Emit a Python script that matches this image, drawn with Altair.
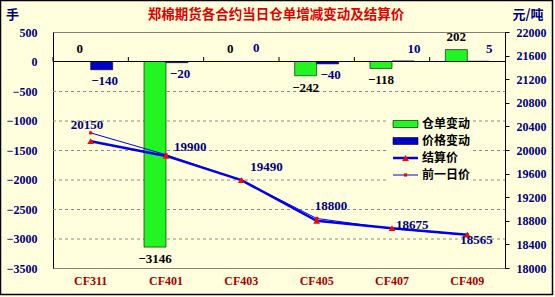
import altair as alt
import pandas as pd

# ---------------- data ----------------
categories = ["CF311", "CF401", "CF403", "CF405", "CF407", "CF409"]
warrant_change = [0, -3146, 0, -242, -118, 202]          # 仓单变动 (手)
price_change = [-140, -20, 0, -40, 10, 5]                # 价格变动 (元/吨)
settle_price = [20150, 19900, 19490, 18800, 18675, 18565]  # 结算价
prev_price = [20290, 19920, 19490, 18840, 18665, 18560]    # 前一日价
series_names = ["仓单变动", "价格变动", "结算价", "前一日价"]
left_ticks = [500, 0, -500, -1000, -1500, -2000, -2500, -3000, -3500]
right_ticks = [22000, 21600, 21200, 20800, 20400, 20000, 19600, 19200, 18800, 18400, 18000]
title_text = "郑棉期货各合约当日仓单增减变动及结算价"
left_unit = "手"
right_unit = "元/吨"

# ---------------- tables ----------------
bar_df = pd.DataFrame({
    "cat": categories * 2,
    "series": [series_names[0]] * len(categories) + [series_names[1]] * len(categories),
    "value": warrant_change + price_change,
})
line_df = pd.DataFrame({"cat": categories, "settle": settle_price, "prev": prev_price})
grid_df = pd.DataFrame({"level": [t for t in left_ticks if t not in (500, 0, -3500)]})
one = pd.DataFrame({"k": [0]})

# ---------------- style ----------------
BG = "#FFFFDD"
NUM_FONT = "Liberation Serif"
CJK_FONT = "Noto Sans CJK SC"
NAVY = "#000080"
GREEN = "#22F522"
BLUE = "#0000CC"
LINE_BLUE = "#0000EE"
RED = "#FF0000"
W, H = 452, 236

xscale = alt.Scale(type="band", domain=categories, paddingInner=0, paddingOuter=0)
bar_series = series_names[:2]
xo_scale = alt.Scale(domain=bar_series, paddingInner=0, paddingOuter=0.712)
yl = alt.Scale(domain=[-3500, 500], nice=False, zero=False)
yr = alt.Scale(domain=[18000, 22000], nice=False, zero=False)

X = alt.X("cat:N", sort=categories, scale=xscale, axis=None, title=None)
XO = alt.XOffset("series:N", sort=bar_series, scale=xo_scale)

x_axis = alt.Axis(
    title=None, orient="bottom", domain=True, domainColor="black", ticks=False,
    labels=False, grid=False,
)
left_axis = alt.Axis(
    title=None, orient="left", values=left_ticks, format="d", grid=False,
    domain=True, domainColor="black", ticks=False, labelPadding=16,
    labelFont=NUM_FONT, labelFontWeight="bold", labelFontSize=12, labelColor=NAVY,
)
right_axis = alt.Axis(
    title=None, orient="right", values=right_ticks, format="d", grid=False,
    domain=True, domainColor="black", ticks=True, tickColor="black", tickSize=4,
    labelPadding=7, labelFont=NUM_FONT, labelFontWeight="bold", labelFontSize=12,
    labelColor=NAVY,
)

# ---------------- bars (left scale) ----------------
grid = alt.Chart(grid_df).mark_rule(
    color="#8A8A8A", strokeWidth=1, strokeDash=[3, 3], opacity=1
).encode(
    x=alt.value(0), x2=alt.value(W),
    y=alt.Y("level:Q", scale=yl, axis=None),
    yOffset=alt.value(0.5),
)
bars = alt.Chart(bar_df).mark_bar(stroke="black", strokeWidth=0.6).encode(
    x=alt.X("cat:N", sort=categories, scale=xscale, axis=x_axis),
    xOffset=XO,
    y=alt.Y("value:Q", scale=yl, axis=left_axis),
    color=alt.Color("series:N", scale=alt.Scale(domain=bar_series, range=[GREEN, BLUE]), legend=None),
)


def bar_label(series, cond, dx, dy, color):
    return alt.Chart(bar_df).transform_filter(
        f"datum.series == '{series}' && {cond}"
    ).mark_text(
        dx=dx, dy=dy, font=NUM_FONT, fontWeight="bold", fontSize=13, color=color, baseline="middle"
    ).encode(x=X, xOffset=XO, y=alt.Y("value:Q", scale=yl, axis=None), text=alt.Text("value:Q"))


bar_labels = [
    bar_label(bar_series[0], "datum.value >= 0", 0, -13, "black"),
    bar_label(bar_series[0], "datum.value < 0", 0, 12, "black"),
    bar_label(bar_series[1], "datum.value > 0", 11, -12, NAVY),
    bar_label(bar_series[1], "datum.value == 0", 4, -14, NAVY),
    bar_label(bar_series[1], "datum.value < 0", 3, 11, NAVY),
]

zero_rule = alt.Chart(one).mark_rule(color="black", strokeWidth=1).encode(
    x=alt.value(0), x2=alt.value(W),
    y=alt.Y(datum=0, scale=yl, axis=None),
)
edge_ticks = alt.Chart(line_df).mark_rule(color="black", strokeWidth=1).encode(
    x=alt.X("cat:N", sort=categories, scale=xscale, axis=None, bandPosition=0),
    y=alt.Y(datum=0, scale=yl, axis=None),
    y2=alt.value(25),
)
cat_labels = alt.Chart(line_df).mark_text(
    baseline="middle", font=NUM_FONT, fontWeight="bold", fontSize=12, color="#A80000",
).encode(x=X, y=alt.value(H + 13), text="cat:N")

# ---------------- lines (right scale) ----------------
YP = alt.Y("prev:Q", scale=yr, axis=right_axis)
YPn = alt.Y("prev:Q", scale=yr, axis=None)
YS = alt.Y("settle:Q", scale=yr, axis=None)
prev_line = alt.Chart(line_df).mark_line(color=LINE_BLUE, strokeWidth=1).encode(x=X, y=YP)
prev_pts = alt.Chart(line_df).mark_point(shape="square", filled=True, color=RED, size=10, opacity=1).encode(
    x=X, y=YPn)
settle_line = alt.Chart(line_df).mark_line(color=LINE_BLUE, strokeWidth=2.5).encode(x=X, y=YS)
settle_pts = alt.Chart(line_df).mark_point(shape="triangle-up", filled=True, color=RED, size=45, opacity=1).encode(
    x=X, y=YS)

label_nudge = {  # (dx, dy) of each settlement-price label
    "CF311": (-20, -16), "CF401": (8, -9), "CF403": (9, -13),
    "CF405": (-2, -15), "CF407": (4, -3), "CF409": (-7, 5),
}
price_labels = [
    alt.Chart(line_df).transform_filter(f"datum.cat == '{c}'").mark_text(
        align="left", baseline="middle", dx=dx, dy=dy, font=NUM_FONT, fontWeight="bold",
        fontSize=13, color=NAVY,
    ).encode(x=X, y=YS, text=alt.Text("settle:Q"))
    for c, (dx, dy) in label_nudge.items()
]

# ---------------- decorations: legend, titles, frame ----------------
legend_bg = alt.Chart(one).mark_rect(fill=BG).encode(
    x=alt.value(333), x2=alt.value(420), y=alt.value(80), y2=alt.value(152))
leg_green = alt.Chart(one).mark_rect(fill=GREEN, stroke="black", strokeWidth=0.6).encode(
    x=alt.value(340), x2=alt.value(365), y=alt.value(88.5), y2=alt.value(95.5))
leg_blue = alt.Chart(one).mark_rect(fill=BLUE, stroke="black", strokeWidth=0.6).encode(
    x=alt.value(340), x2=alt.value(365), y=alt.value(105.5), y2=alt.value(112.5))
leg_settle = alt.Chart(one).mark_rule(color=LINE_BLUE, strokeWidth=2.5).encode(
    x=alt.value(340), x2=alt.value(365), y=alt.value(126))
leg_settle_pt = alt.Chart(one).mark_point(shape="triangle-up", filled=True, color=RED, size=45, opacity=1).encode(
    x=alt.value(352.5), y=alt.value(126))
leg_prev = alt.Chart(one).mark_rule(color=LINE_BLUE, strokeWidth=1).encode(
    x=alt.value(340), x2=alt.value(365), y=alt.value(143))
leg_prev_pt = alt.Chart(one).mark_point(shape="square", filled=True, color=RED, size=10, opacity=1).encode(
    x=alt.value(352.5), y=alt.value(143))
leg_texts = [
    alt.Chart(one).mark_text(
        text=name, align="left", baseline="middle", font=CJK_FONT, fontWeight="bold",
        fontSize=12, color="black",
    ).encode(x=alt.value(369), y=alt.value(92 + 17 * i))
    for i, name in enumerate(series_names)
]

title = alt.Chart(one).mark_text(
    text=title_text, align="center", baseline="middle", font=CJK_FONT, fontWeight="bold",
    fontSize=13.5, color="#E00000",
).encode(x=alt.value(223), y=alt.value(-17))
unit_l = alt.Chart(one).mark_text(
    text=left_unit, align="center", baseline="middle", font=CJK_FONT, fontWeight="bold",
    fontSize=13, color=NAVY,
).encode(x=alt.value(-40.5), y=alt.value(-17))
unit_r = alt.Chart(one).mark_text(
    text=right_unit, align="center", baseline="middle", font=CJK_FONT, fontWeight="bold",
    fontSize=13, color=NAVY,
).encode(x=alt.value(475), y=alt.value(-17))
frame = alt.Chart(one).mark_rect(filled=False, stroke="black", strokeWidth=1.5).encode(
    x=alt.value(-52.5), x2=alt.value(499.5), y=alt.value(-31.5), y2=alt.value(262.5))

chart = alt.layer(
    grid, bars, zero_rule, edge_ticks, *bar_labels, cat_labels,
    prev_line, settle_line, prev_pts, settle_pts, *price_labels,
    legend_bg, leg_green, leg_blue, leg_settle, leg_prev, leg_settle_pt, leg_prev_pt,
    *leg_texts, title, unit_l, unit_r, frame,
).resolve_scale(y="independent").properties(
    width=W, height=H,
    autosize=alt.AutoSizeParams(type="none"),
    padding={"left": 53, "top": 32, "right": 50, "bottom": 29},
    background=BG,
).configure_view(stroke="#808080", strokeWidth=1)

chart.save("out.html", embed_options={"renderer": "svg", "actions": False})
